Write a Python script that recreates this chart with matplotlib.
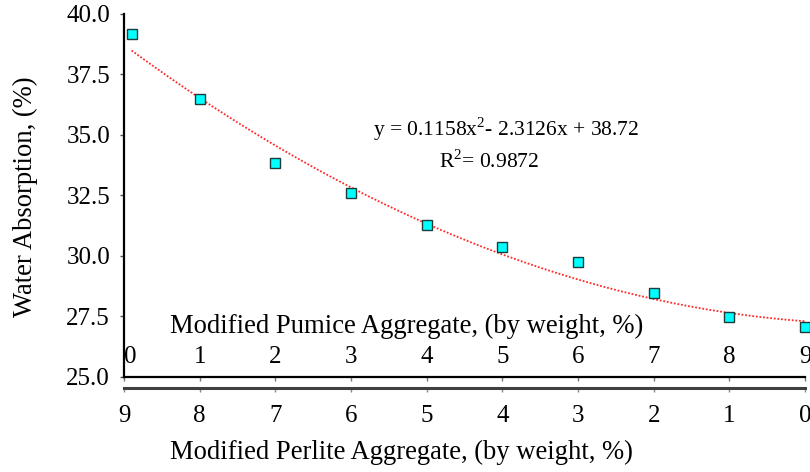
import matplotlib
matplotlib.use("Agg")
import matplotlib.pyplot as plt
import numpy as np

plt.rcParams['font.family'] = ['Liberation Serif', 'DejaVu Serif']
plt.rcParams['mathtext.fontset'] = 'custom'
plt.rcParams['mathtext.rm'] = 'Liberation Serif'

# data
pumice_x = [0.1, 1, 2, 3, 4, 5, 6, 7, 8, 9]
water_abs = [39.16, 36.48, 33.85, 32.59, 31.26, 30.36, 29.74, 28.47, 27.47, 27.06]
pumice_ticks = [0, 1, 2, 3, 4, 5, 6, 7, 8, 9]
perlite_labels = ['9', '8', '7', '6', '5', '4', '3', '2', '1', '0']
fit_coef = [0.1158, -2.3126, 38.72]
r2 = 0.9872
y_ticks = [25.0, 27.5, 30.0, 32.5, 35.0, 37.5, 40.0]

fig = plt.figure(figsize=(8.1, 4.72), dpi=100)
ax = fig.add_axes([124/810, 1 - 376.5/472, (805 - 124)/810, (376.5 - 14)/472])

# trend line
xf = np.linspace(pumice_x[0], pumice_x[-1], 200)
ax.plot(xf, np.polyval(fit_coef, xf), color='#ff2a2a', lw=1.3, ls=(0, (1, 1)), zorder=2)

# measured points
ax.plot(pumice_x, water_abs, ls='none', marker='s', ms=6.8, mfc='#00ffff',
        mec='#1e3c3c', mew=1.0, clip_on=False, zorder=3)

ax.set_xlim(0, 9)
ax.set_ylim(25, 40)
ax.set_yticks(y_ticks)
ax.set_yticklabels(['%.1f' % v for v in y_ticks])
ax.tick_params(axis='y', direction='out', length=3, width=1, color='#555555',
               labelsize=18, pad=7)

for s in ['top', 'right']:
    ax.spines[s].set_visible(False)
ax.spines['left'].set_linewidth(1.6)
ax.spines['bottom'].set_linewidth(1.6)

# pumice axis: labels sit above the bottom line
ax.set_xticks(pumice_ticks)
ax.set_xticklabels([str(v) for v in pumice_ticks])
ax.tick_params(axis='x', direction='out', length=3, width=1, color='#777777',
               labelsize=18, pad=-25)
ax.get_xticklabels()[0].set_horizontalalignment('left')

# perlite axis below
ax2 = ax.twiny()
ax2.set_xlim(0, 9)
ax2.xaxis.set_ticks_position('bottom')
ax2.xaxis.set_label_position('bottom')
ax2.spines['bottom'].set_position(('outward', 8.5))
for s in ['top', 'right', 'left']:
    ax2.spines[s].set_visible(False)
ax2.spines['bottom'].set_linewidth(2.2)
ax2.spines['bottom'].set_color('#404040')
ax2.set_xticks(pumice_ticks)
ax2.set_xticklabels(perlite_labels)
ax2.tick_params(axis='x', direction='out', length=3, width=1, color='#888888',
                labelsize=18, pad=9)

fig.text(170/810, 1 - 326/472, 'Modified Pumice Aggregate, (by weight, %)',
         fontsize=19.2, ha='left', va='center')
fig.text(170/810, 1 - 452/472, 'Modified Perlite Aggregate, (by weight, %)',
         fontsize=19.2, ha='left', va='center')
fig.text(25/810, 1 - 197/472, 'Water Absorption, (%)', fontsize=19.2,
         rotation=90, ha='center', va='center')

eq = 'y = %.4fx$^{2}$- %.4fx + %.2f' % (fit_coef[0], -fit_coef[1], fit_coef[2])
fig.text(373/810, 1 - 129/472, eq, fontsize=15.5, ha='left', va='center')
fig.text(489/810, 1 - 162/472, 'R$^{2}$= %.4f' % r2, fontsize=15.5,
         ha='center', va='center')

fig.savefig('out.png', dpi=100)
